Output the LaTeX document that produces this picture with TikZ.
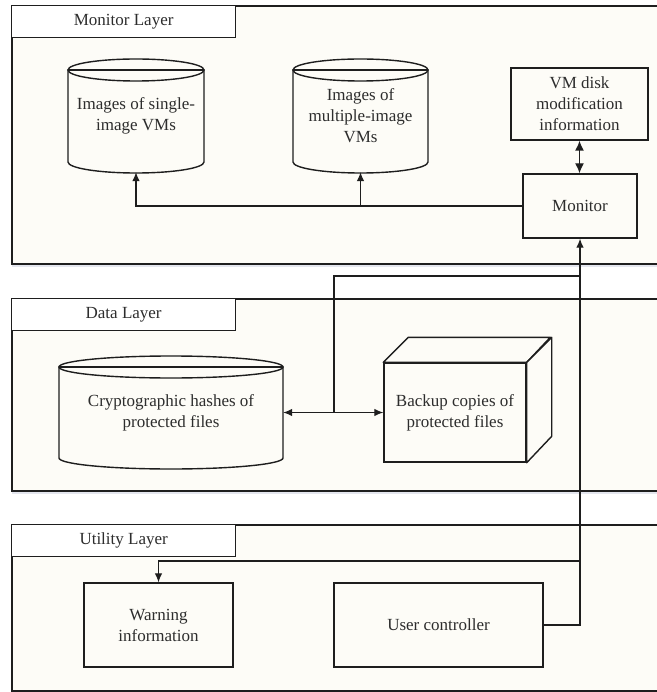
\documentclass[tikz,border=0pt]{standalone}
\usepackage{fontspec}
\setmainfont{Liberation Serif}
\usetikzlibrary{arrows.meta}
\definecolor{ink}{RGB}{30,30,30}
\definecolor{txt}{RGB}{45,45,45}
\definecolor{cream}{RGB}{253,252,247}
\definecolor{shade}{RGB}{228,230,238}
\newcommand\drawcyl[5]{% cx, rx, ytop, ybot, ry
  \filldraw[shapeline,fill=cream] ({#1-#2},#3) -- ({#1-#2},#4) .. controls ({#1-#2},{#4+0.552*#5}) and ({#1-0.552*#2},{#4+#5}) .. (#1,{#4+#5}) .. controls ({#1+0.552*#2},{#4+#5}) and ({#1+#2},{#4+0.552*#5}) .. ({#1+#2},#4) -- ({#1+#2},#3) -- cycle;
  \filldraw[shapeline,fill=cream] (#1,#3) ellipse [x radius=#2pt, y radius=#5pt];
  \draw[shapeline] ({#1-#2},#3) -- ({#1+#2},#3);
}
\begin{document}
\begin{tikzpicture}[x=1pt,y=-1pt,
  layerframe/.style={draw=ink,line width=1.8pt,fill=cream,anchor=north west,inner sep=0pt,minimum width=670pt},
  tabbox/.style={draw=ink,line width=1.3pt,fill=white,anchor=north west,inner sep=0pt,minimum width=224pt,minimum height=32pt,text=txt,font=\fontsize{17}{21}\selectfont},
  shapeline/.style={draw=ink,line width=1.4pt},
  box/.style={draw=ink,line width=1.4pt,fill=cream,inner sep=0pt,align=center,text=txt,font=\fontsize{17}{21}\selectfont},
  lbl/.style={inner sep=0pt,align=center,text=txt,font=\fontsize{17}{21}\selectfont},
  conn/.style={draw=ink,line width=1.1pt},
  arr/.style={conn,-{Latex[length=9pt,width=7.5pt]}},
  darr/.style={conn,line width=1.4pt,{Latex[length=10pt,width=9pt]}-{Latex[length=10pt,width=9pt]}},
  shadowline/.style={draw=shade,line width=3pt}
]
\useasboundingbox (0,0) rectangle (656,692);
\fill[white] (0,0) rectangle (656,692);

% layers
\draw[shadowline] (12,265.5) -- (670,265.5);
\draw[shadowline] (12,492.5) -- (670,492.5);
\node[layerframe,minimum height=258pt] (monlayer) at (11,5) {};
\node[tabbox] (montab) at (11,5) {Monitor Layer};
\node[layerframe,minimum height=192pt] (datalayer) at (11,298) {};
\node[tabbox] (datatab) at (11,298) {Data Layer};
\node[layerframe,minimum height=166pt] (utillayer) at (11,524) {};
\node[tabbox] (utiltab) at (11,524) {Utility Layer};

% cylinders
\drawcyl{136}{68}{70}{162}{11}
\node[lbl,minimum width=136pt,minimum height=113pt] (cyl1) at (136,115.5) {Images of single-\\image VMs};
\drawcyl{360.5}{67.5}{70}{162}{11}
\node[lbl,minimum width=135pt,minimum height=113pt] (cyl2) at (360.5,115.5) {Images of\\multiple-image\\VMs};
\drawcyl{171}{112}{367}{458}{11}
\node[lbl,minimum width=224pt,minimum height=113pt] (cyl3) at (171,412.5) {Cryptographic hashes of\\protected files};

% boxes
\node[box,minimum width=137pt,minimum height=72pt] (vm) at (579.5,104) {VM disk\\modification\\information};
\node[box,minimum width=114pt,minimum height=64pt] (mon) at (580,206) {Monitor};
\node[box,minimum width=142pt,minimum height=99pt] (bk) at (455,412.5) {Backup copies of\\protected files};
\filldraw[shapeline,fill=cream,line join=round] (bk.north west) -- ++(25,-25) -- ++(142,0) -- (bk.north east) -- cycle;
\filldraw[shapeline,fill=cream,line join=round] (bk.north east) -- ++(25,-25) -- ++(0,99) -- (bk.south east) -- cycle;
\node[box,minimum width=149pt,minimum height=84pt] (warn) at (158.5,625) {Warning\\information};
\node[box,minimum width=209pt,minimum height=84pt] (uc) at (438.5,625) {User controller};

% connectors
\draw[arr] (mon.west) -| (cyl1.south);
\draw[arr] (cyl2.south |- mon.west) -- (cyl2.south);
\draw[darr] (vm.south) -- (vm.south |- mon.north);
\draw[arr] (uc.east) -| (mon.south);
\coordinate (jn) at (334,276);
\coordinate (jd) at (jn |- bk.west);
\draw[conn] (mon.south |- jn) -- (jn) -- (jd);
\draw[arr] (jd) -- (cyl3.east);
\draw[arr] (jd) -- (bk.west);
\coordinate (jw) at (580,561);
\draw[arr] (jw) -| (warn.north);
\end{tikzpicture}
\end{document}
